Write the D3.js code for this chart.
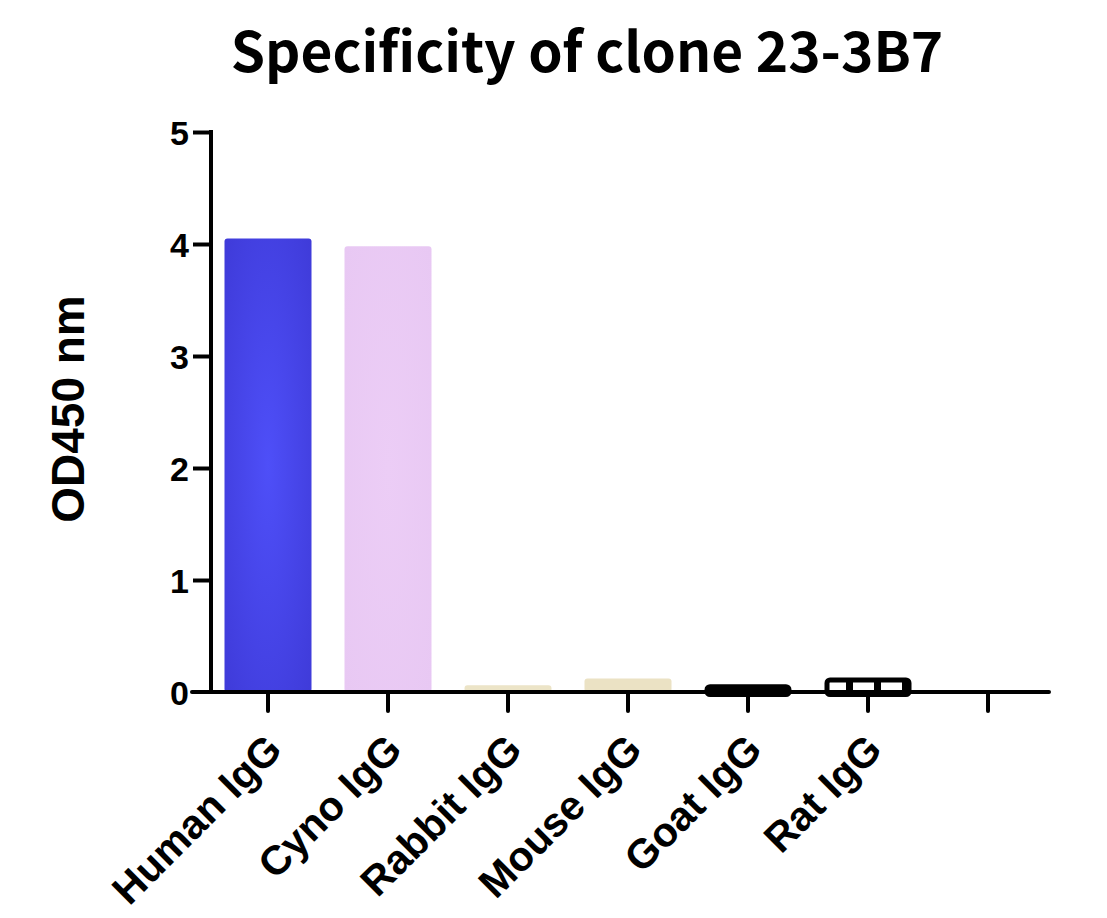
<!DOCTYPE html>
<html>
<head>
<meta charset="utf-8">
<script src="https://cdn.jsdelivr.net/npm/d3@7"></script>
<style>
  html, body { margin: 0; padding: 0; background: #fff; }
  svg { display: block; }
  .tick-label, .cat-label, .y-title { font-family: "Liberation Sans", Arial, sans-serif; font-weight: bold; fill: #000; }
  .title { font-family: "Noto Sans CJK SC", "Noto Sans", sans-serif; font-weight: bold; fill: #000; }
</style>
</head>
<body>
<div id="chart"></div>
<script>
// ──────────────  data

const categories = ['Human IgG', 'Cyno IgG', 'Rabbit IgG', 'Mouse IgG', 'Goat IgG', 'Rat IgG', ''];
const values     = [4.05, 3.98, 0.06, 0.12, 0.07, 0.13, null];
const yTicks     = [0, 1, 2, 3, 4, 5];

// ──────────────  layout

const W = 1107, H = 918;
const X0 = 208, X1 = 1048;     // band range
const Y0 = 692, Y1 = 132;      // value 0 → 5
const AXIS_X = 211;

const svg = d3.select('#chart').append('svg')
  .attr('width', W).attr('height', H);

const defs = svg.append('defs');

const grad = defs.append('radialGradient').attr('id', 'blue')
  .attr('cx', '50%').attr('cy', '50%').attr('r', '70%');
grad.append('stop').attr('offset', '0%').attr('stop-color', '#4e4ff8');
grad.append('stop').attr('offset', '100%').attr('stop-color', '#3f3bd9');

const gradP = defs.append('radialGradient').attr('id', 'pink')
  .attr('cx', '50%').attr('cy', '50%').attr('r', '70%');
gradP.append('stop').attr('offset', '0%').attr('stop-color', '#eccdf6');
gradP.append('stop').attr('offset', '100%').attr('stop-color', '#e8c8f3');

const hatch = defs.append('pattern').attr('id', 'hatch')
  .attr('patternUnits', 'userSpaceOnUse')
  .attr('width', 28).attr('height', 10).attr('x', 6);
hatch.append('rect').attr('width', 28).attr('height', 10).attr('fill', '#fff');
hatch.append('rect').attr('width', 7).attr('height', 10).attr('fill', '#000');

const fills = ['url(#blue)', 'url(#pink)', '#ece4c7', '#ebe2c4', '#000', 'url(#hatch)', 'none'];

const x = d3.scaleBand().domain(categories.map((c, i) => i))
  .range([X0, X1]).paddingInner(0.275).paddingOuter(0.1375);
const y = d3.scaleLinear().domain([0, 5]).range([Y0, Y1]);

// ──────────────  title

svg.append('text').attr('class', 'title')
  .attr('x', 587).attr('y', 72)
  .attr('text-anchor', 'middle')
  .attr('font-size', 55)
  .text('Specificity of clone 23-3B7');

// ──────────────  bars

const bars = svg.append('g');
values.forEach((v, i) => {
  if (v == null) return;
  const outlined = i >= 4;
  const inset = outlined ? 2.5 : 0;
  bars.append('rect')
    .attr('x', x(i) + inset)
    .attr('y', y(v) + inset)
    .attr('width', x.bandwidth() - 2 * inset)
    .attr('height', Math.max(0, Y0 - y(v)))
    .attr('rx', 3)
    .attr('fill', fills[i])
    .attr('stroke', outlined ? '#000' : 'none')
    .attr('stroke-width', outlined ? 5 : 0);
});

// ──────────────  axes

const yAxis = d3.axisLeft(y).tickValues(yTicks).tickSize(18).tickPadding(4).tickFormat(d3.format('d'));
const gy = svg.append('g').attr('transform', `translate(${AXIS_X},0)`).call(yAxis);
gy.select('.domain').attr('d', `M0,${Y1}V${Y0}`).attr('stroke-width', 4).attr('stroke-linecap', 'square');
gy.selectAll('.tick line').attr('stroke-width', 4);
gy.selectAll('.tick text').attr('class', 'tick-label')
  .attr('font-size', 34).attr('dy', '0.36em');
gy.select('.tick:first-of-type line').remove();

const xAxis = d3.axisBottom(x).tickSize(19).tickFormat(() => '');
const gx = svg.append('g').attr('transform', `translate(0,${Y0})`).call(xAxis);
gx.select('.domain').attr('d', `M192,0H1049`).attr('stroke-width', 4).attr('stroke-linecap', 'round');
gx.selectAll('.tick line').attr('stroke-width', 4).attr('stroke-linecap', 'round');
gx.selectAll('.tick text').remove();

// category labels, rotated
svg.append('g').selectAll('text')
  .data(categories)
  .join('text')
  .attr('class', 'cat-label')
  .attr('font-size', 41)
  .attr('text-anchor', 'end')
  .attr('transform', (d, i) => `translate(${x(i) + x.bandwidth() / 2 + 16},${752}) rotate(-45)`)
  .text(d => d);

// y title
svg.append('text').attr('class', 'y-title')
  .attr('font-size', 46)
  .attr('text-anchor', 'middle')
  .attr('transform', `translate(84,409) rotate(-90)`)
  .text('OD450 nm');
</script>
</body>
</html>
